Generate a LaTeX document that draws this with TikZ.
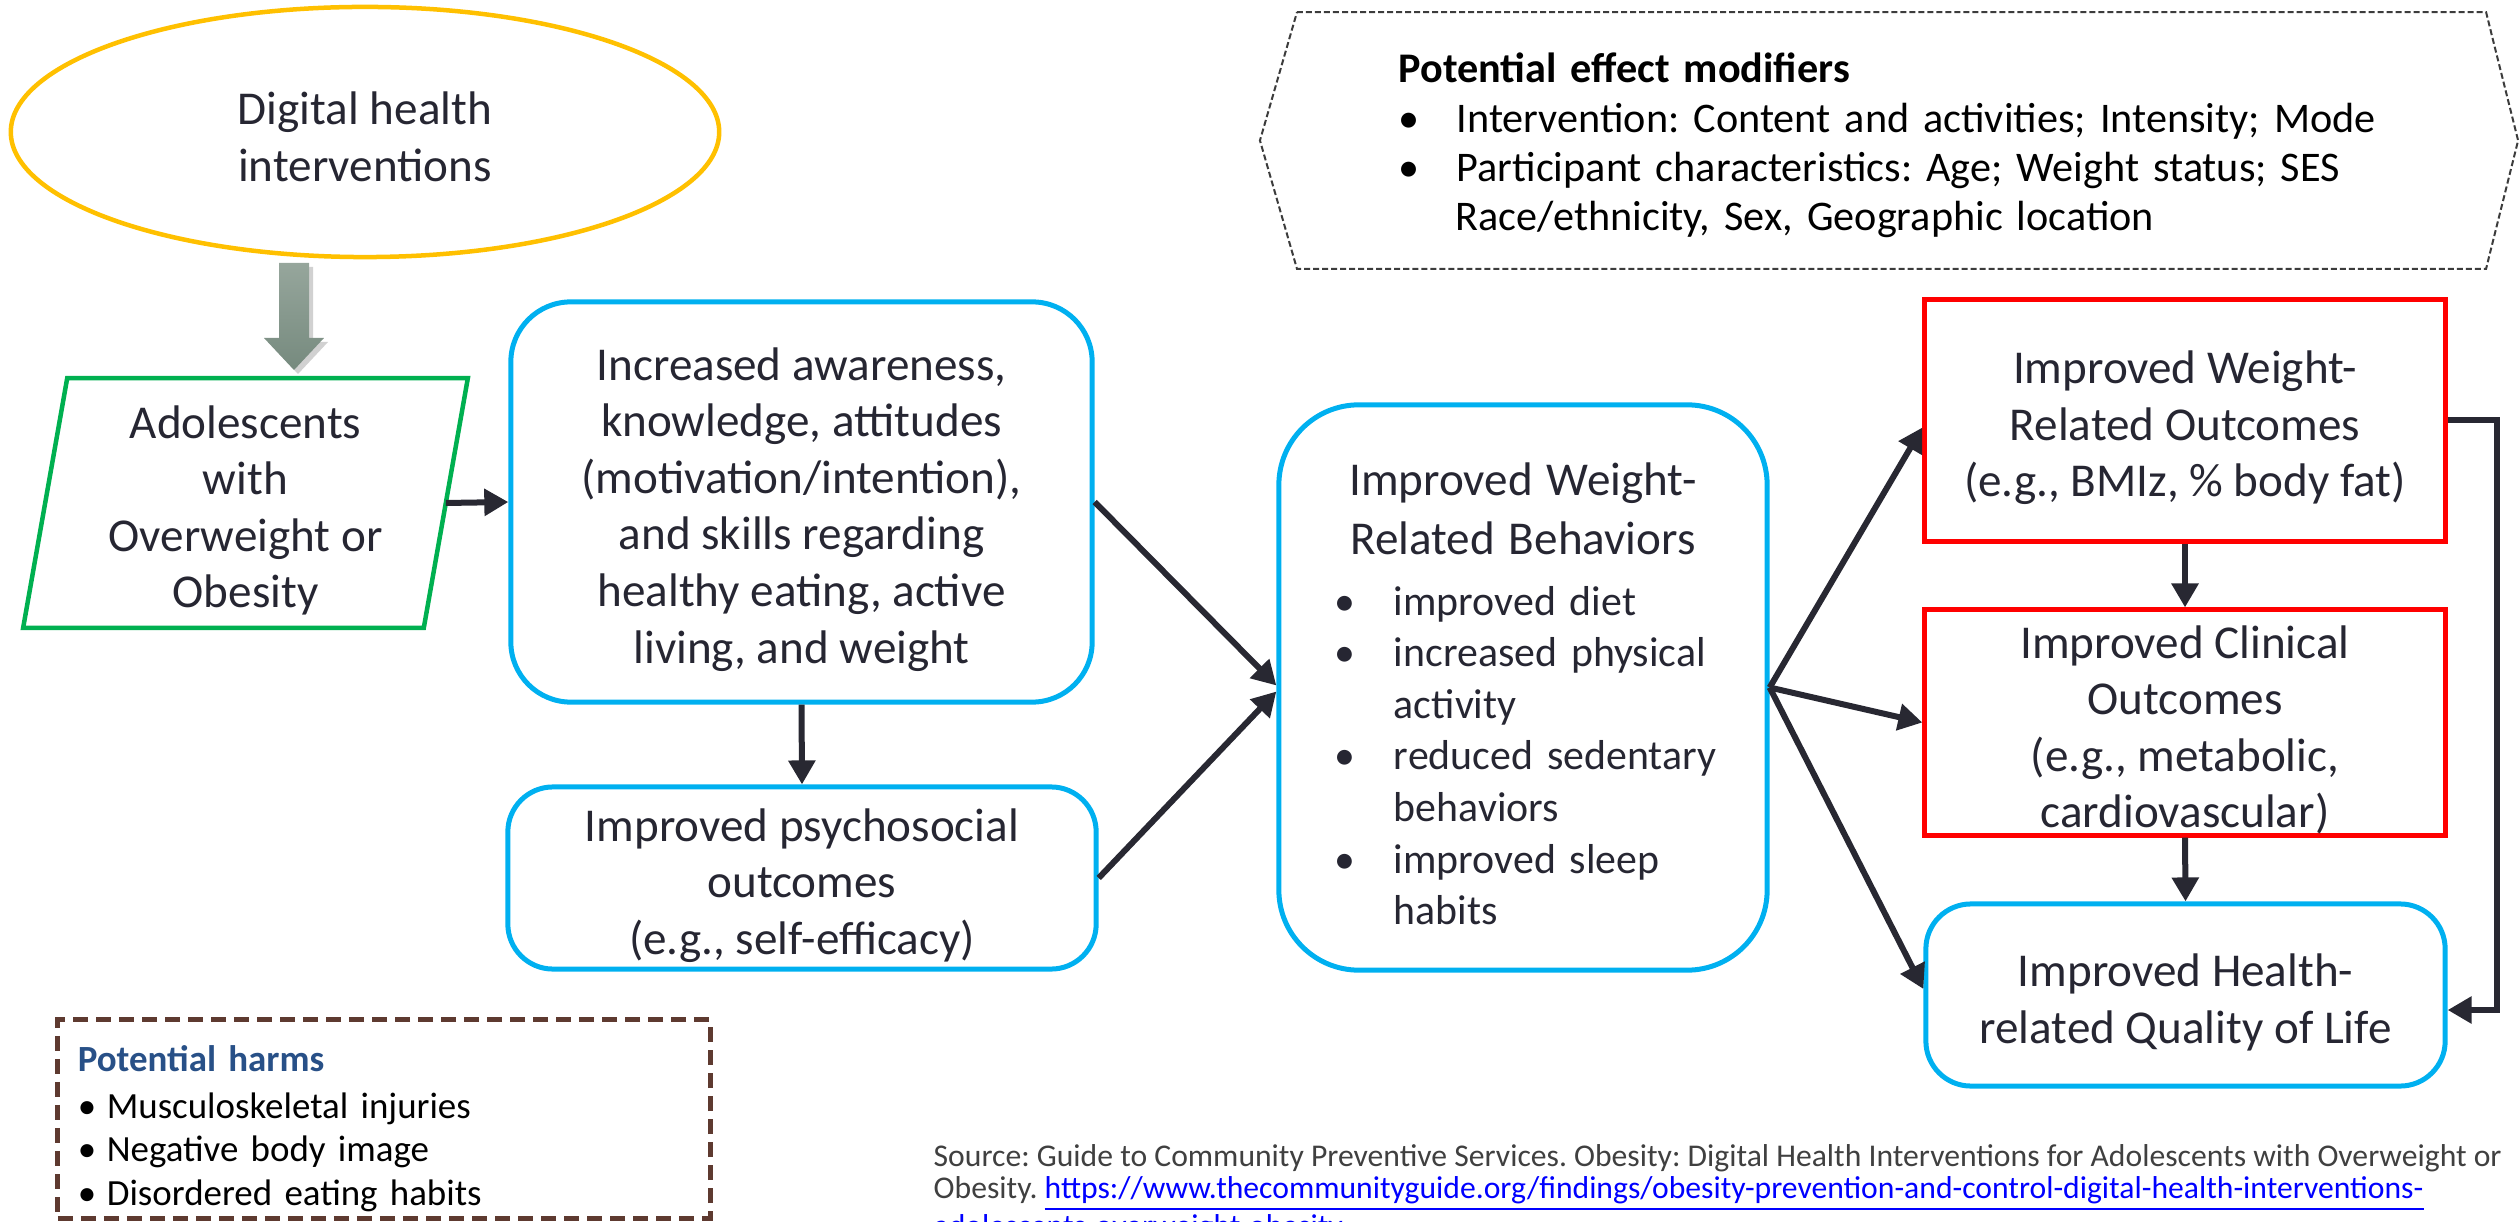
\documentclass[tikz,border=0pt]{standalone}
\usepackage{fontspec}
\setmainfont{Carlito}
\usetikzlibrary{shapes.geometric,arrows.meta,calc}
\definecolor{txt}{RGB}{38,38,50}
\definecolor{conn}{RGB}{40,40,50}
\definecolor{boxblue}{RGB}{0,176,240}
\definecolor{boxred}{RGB}{255,0,0}
\definecolor{boxgreen}{RGB}{0,176,80}
\definecolor{gold}{RGB}{255,192,0}
\definecolor{brownd}{RGB}{94,58,48}
\definecolor{harmblue}{RGB}{40,80,135}
\definecolor{srcgray}{RGB}{64,64,64}
\definecolor{linkblue}{RGB}{0,0,255}
\definecolor{garrowtop}{RGB}{150,166,156}
\definecolor{garrowbot}{RGB}{118,138,126}
\definecolor{dashgray}{RGB}{60,60,60}
\newcommand{\tp}[1]{\rule{0pt}{#1}}
\tikzset{
  mainfont/.style={font=\fontsize{13.4}{16.1}\selectfont, text=txt},
  bluebox/.style={draw=boxblue, line width=0.05cm, rounded corners=0.6cm, align=center, mainfont, inner sep=0},
  redbox/.style={draw=boxred, line width=0.05cm, align=center, mainfont, inner sep=0},
  conn/.style={draw=conn, line width=0.06cm, -{Triangle[length=0.24cm,width=0.26cm]}},
}
\begin{document}
\frenchspacing
\begin{tikzpicture}[x=0.01cm,y=-0.01cm]
\useasboundingbox (0,0) rectangle (2519,1222);
\clip (0,0) rectangle (2519,1222);

% Digital health interventions
\node[ellipse, draw=gold, line width=0.045cm, minimum width=7.08cm, minimum height=2.5cm,
      align=center, mainfont, inner sep=0] (dhi) at (365,132) {\tp{12pt}Digital health\\interventions};

% gray block arrow
\coordinate (garr) at (294,263);
\fill[black, opacity=0.18] ($(garr)+(4,4)$) ++(-15,0) -- ++(30,0) -- ++(0,75) -- ++(15,0) -- ++(-30,32) -- ++(-30,-32) -- ++(15,0) -- cycle;
\shade[top color=garrowtop, bottom color=garrowbot] (garr) ++(-15,0) -- ++(30,0) -- ++(0,75) -- ++(15,0) -- ++(-30,32) -- ++(-30,-32) -- ++(15,0) -- cycle;

% Adolescents parallelogram
\node[mainfont, align=center, minimum width=3.99cm, minimum height=2.48cm, inner sep=0] (adol) at (245.5,503)
  {\tp{13.5pt}Adolescents\\with\\Overweight or\\Obesity};
\draw[draw=boxgreen, line width=0.045cm] ([xshift=0.22cm]adol.north west) -- ([xshift=0.22cm]adol.north east)
  -- ([xshift=-0.22cm]adol.south east) -- ([xshift=-0.22cm]adol.south west) -- cycle;

% Boxes
\node[bluebox, minimum width=5.81cm, minimum height=4cm] (aware) at (801.5,502)
  {\tp{13.5pt}Increased awareness,\\knowledge, attitudes\\(motivation/intention),\\and skills regarding\\healthy eating, active\\living, and weight};
\node[bluebox, rounded corners=0.45cm, minimum width=5.88cm, minimum height=1.82cm] (psych) at (802,878)
  {\tp{13.5pt}Improved psychosocial\\outcomes\\(e.g., self-efficacy)};
\node[bluebox, rounded corners=0.8cm, minimum width=4.88cm, minimum height=5.65cm, text width=3.9cm, align=left,
      font=\fontsize{11.9}{14.65}\selectfont] (beh) at (1523,687.5)
  {\makebox[3.9cm][c]{\fontsize{13.4}{16}\selectfont\tp{13pt}Improved Weight-}\\[0.075cm]
   \makebox[3.9cm][c]{\fontsize{13.4}{16}\selectfont Related Behaviors}\\[0.09cm]
   \hspace*{0.07cm}\makebox[0.59cm][l]{•}improved diet\\
   \hspace*{0.07cm}\makebox[0.59cm][l]{•}\mbox{increased physical}\\
   \hspace*{0.66cm}activity\\
   \hspace*{0.07cm}\makebox[0.59cm][l]{•}\mbox{reduced sedentary}\\
   \hspace*{0.66cm}behaviors\\
   \hspace*{0.07cm}\makebox[0.59cm][l]{•}\mbox{improved sleep}\\
   \hspace*{0.66cm}habits};
\node[redbox, minimum width=5.2cm, minimum height=2.41cm] (wro) at (2185,420.5)
  {\tp{13.5pt}Improved Weight-\\Related Outcomes\\(e.g., BMIz, \% body fat)};
\node[redbox, minimum width=5.2cm, minimum height=2.25cm] (clin) at (2185,722.5)
  {\tp{13.5pt}Improved Clinical\\Outcomes\\(e.g., metabolic,\\cardiovascular)};
\node[bluebox, rounded corners=0.45cm, minimum width=5.19cm, minimum height=1.82cm] (hrql) at (2185.5,995)
  {\tp{13.5pt}Improved Health-\\related Quality of Life};

% Connectors
\draw[conn] (adol.east) -- (aware.west);
\draw[conn] (aware.south) -- (psych.north);
\draw[conn] (aware.east) -- ([yshift=0.02cm]beh.west);
\draw[conn] (psych.east) -- ([yshift=-0.04cm]beh.west);
\draw[conn] (beh.east) -- ([yshift=-0.07cm]wro.west);
\draw[conn] (beh.east) -- (clin.west);
\draw[conn] (beh.east) -- ([yshift=0.06cm]hrql.west);
\draw[conn] (wro.south) -- (clin.north);
\draw[conn] (clin.south) -- (hrql.north);
\draw[conn] (wro.east) -- ++(49,0) |- ([yshift=-0.15cm]hrql.east);

% Potential effect modifiers
\node[minimum width=11.87cm, minimum height=2.55cm, inner xsep=1.01cm, inner ysep=0, text width=9.85cm, align=left,
      font=\fontsize{12}{13.95}\selectfont, text=black] (mods) at (1891.5,140.5)
  {\tp{11.2pt}\textbf{Potential effect modifiers}\\
   \makebox[0.58cm][l]{•}\mbox{Intervention: Content and activities; Intensity; Mode}\\
   \makebox[0.58cm][l]{•}\mbox{Participant characteristics: Age; Weight status; SES}\\
   \hspace*{0.57cm}\mbox{Race/ethnicity, Sex, Geographic location}};
\draw[draw=dashgray, line width=0.02cm, dash pattern=on 0.06cm off 0.03cm]
  (mods.north west) -- (mods.north east) -- ([xshift=0.32cm]mods.east) -- (mods.south east)
  -- (mods.south west) -- ([xshift=-0.37cm]mods.west) -- cycle;

% Potential harms
\node[draw=brownd, line width=0.05cm, dash pattern=on 0.15cm off 0.08cm, minimum width=6.52cm, minimum height=1.98cm,
      inner xsep=0.2cm, inner ysep=0, text width=6.12cm, align=left, text=black,
      font=\fontsize{10.5}{12.4}\selectfont] (harms) at (384,1119)
  {\tp{13pt}{\color{harmblue}\bfseries Potential harms}\\[0.03cm]
   \makebox[0.29cm][l]{•}Musculoskeletal injuries\\
   \makebox[0.29cm][l]{•}Negative body image\\
   \makebox[0.29cm][l]{•}Disordered eating habits};

% Source
\node[anchor=north west, inner sep=0, align=left, text=srcgray, font=\fontsize{9}{9.1}\selectfont] (src) at (933,1144)
  {\mbox{Source: Guide to Community Preventive Services. Obesity: Digital Health Interventions for Adolescents with Overweight or}\\
   \mbox{Obesity. {\color{linkblue}\underline{https://www.thecommunityguide.org/findings/obesity-prevention-and-control-digital-health-interventions-}}}\\
   {\color{linkblue}\underline{adolescents-overweight-obesity}}};
\end{tikzpicture}
\end{document}
